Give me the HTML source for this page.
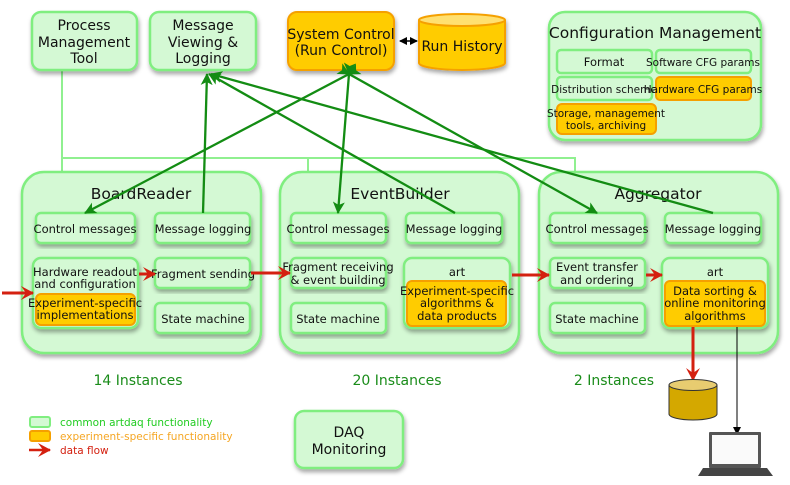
<!DOCTYPE html>
<html><head><meta charset="utf-8"><style>
body{margin:0;background:#fff}
svg{display:block}
text{font-family:"DejaVu Sans","Liberation Sans",sans-serif;fill:#111;text-anchor:middle}
.g{fill:#d4f9d4;stroke:#80ee80;stroke-width:2.5}
.o{fill:#ffcc00;stroke:#f5a000;stroke-width:2}
.s{filter:url(#sh)}
.t11{font-size:11.5px}
.t13{font-size:14px}
.t14{font-size:15.5px}
.sm{font-size:10.5px}
.gl{stroke:#138c13;stroke-width:2.3;fill:none}
</style></head><body>
<svg width="790" height="485" viewBox="0 0 790 485" xmlns="http://www.w3.org/2000/svg">
<defs>
<filter id="sh" x="-10%" y="-10%" width="125%" height="130%"><feDropShadow dx="1" dy="3" stdDeviation="2" flood-color="#000" flood-opacity="0.35"/></filter>
<marker id="ga" markerWidth="12" markerHeight="12" refX="11" refY="6" orient="auto" markerUnits="userSpaceOnUse"><path d="M0,0 L12,6 L0,12 L3,6z" fill="#138c13"/></marker>
<marker id="ka" markerWidth="8" markerHeight="8" refX="7" refY="4" orient="auto" markerUnits="userSpaceOnUse"><path d="M0,0 L8,4 L0,8z" fill="#000"/></marker>
<marker id="ks" markerWidth="8" markerHeight="8" refX="1" refY="4" orient="auto" markerUnits="userSpaceOnUse"><path d="M8,0 L0,4 L8,8z" fill="#000"/></marker>
<marker id="ra" markerWidth="14" markerHeight="14" refX="12" refY="7" orient="auto" markerUnits="userSpaceOnUse"><path d="M0,0 L13,7 L0,14 L5,7z" fill="#d42010"/></marker>
</defs>

<path d="M62,70 V172 M62,158 H575 V172 M308,158 V172" stroke="#90f090" stroke-width="2" fill="none"/>

<rect class="g s" x="32" y="12" width="105" height="58" rx="9"/>
<text class="t13" x="84" y="30">Process</text><text class="t13" x="84" y="47">Management</text><text class="t13" x="84" y="63">Tool</text>
<rect class="g s" x="150" y="12" width="106" height="58" rx="9"/>
<text class="t13" x="203" y="30">Message</text><text class="t13" x="203" y="47">Viewing &amp;</text><text class="t13" x="203" y="63">Logging</text>
<rect class="o s" x="288" y="12" width="106" height="58" rx="9"/>
<text class="t13" x="341" y="39">System Control</text><text class="t13" x="341" y="55">(Run Control)</text>
<g class="s"><path d="M419,20 V63 A43,7 0 0 0 505,63 V20" class="o"/><ellipse cx="462" cy="20" rx="43" ry="6" fill="#ffe070" stroke="#f5a000" stroke-width="2"/></g>
<text class="t13" x="462" y="51">Run History</text>
<line x1="400" y1="41" x2="417" y2="41" stroke="#000" stroke-width="1.5" marker-end="url(#ka)" marker-start="url(#ks)"/>

<rect class="g s" x="549" y="12" width="212" height="128" rx="16"/>
<text class="t14" x="655" y="38">Configuration Management</text>
<rect class="g" x="557" y="50" width="95" height="23" rx="4"/><text class="t11" x="604" y="66">Format</text>
<rect class="g" x="656" y="50" width="95" height="23" rx="4"/><text class="sm" x="703" y="66">Software CFG params</text>
<rect class="g" x="557" y="77" width="95" height="23" rx="4"/><text class="sm" x="604" y="93">Distribution scheme</text>
<rect class="o" x="656" y="77" width="95" height="23" rx="4"/><text class="sm" x="703" y="93">Hardware CFG params</text>
<rect class="o" x="557" y="104" width="99" height="30" rx="5"/><text class="sm" x="606" y="117">Storage, management</text><text class="sm" x="606" y="129">tools, archiving</text>

<rect class="g s" x="22" y="172" width="239" height="181" rx="22"/>
<rect class="g s" x="280" y="172" width="239" height="181" rx="22"/>
<rect class="g s" x="539" y="172" width="239" height="181" rx="22"/>
<text class="t14" x="141" y="199">BoardReader</text>
<text class="t14" x="400" y="199">EventBuilder</text>
<text class="t14" x="658" y="199">Aggregator</text>

<rect class="g s" x="36" y="213" width="99" height="30" rx="5"/><text class="t11" x="85" y="233">Control messages</text>
<rect class="g s" x="155" y="213" width="95" height="30" rx="5"/><text class="t11" x="203" y="233">Message logging</text>
<rect class="g s" x="33" y="258" width="105" height="70" rx="8"/><text class="t11" x="85" y="276">Hardware readout</text><text class="t11" x="85" y="288">and configuration</text>
<rect class="o" x="36" y="294" width="99" height="31" rx="5"/><text class="t11" x="85" y="307">Experiment-specific</text><text class="t11" x="85" y="319">implementations</text>
<rect class="g s" x="155" y="258" width="95" height="30" rx="5"/><text class="t11" x="203" y="278">Fragment sending</text>
<rect class="g s" x="155" y="303" width="95" height="30" rx="5"/><text class="t11" x="203" y="323">State machine</text>

<rect class="g s" x="291" y="213" width="95" height="30" rx="5"/><text class="t11" x="338" y="233">Control messages</text>
<rect class="g s" x="406" y="213" width="96" height="30" rx="5"/><text class="t11" x="454" y="233">Message logging</text>
<rect class="g s" x="291" y="258" width="95" height="30" rx="5"/><text class="t11" x="338" y="271">Fragment receiving</text><text class="t11" x="338" y="284">&amp; event building</text>
<rect class="g s" x="291" y="303" width="95" height="30" rx="5"/><text class="t11" x="338" y="323">State machine</text>
<rect class="g s" x="404" y="258" width="106" height="70" rx="8"/><text class="t11" x="457" y="276">art</text>
<rect class="o" x="407" y="281" width="99" height="45" rx="5"/><text class="t11" x="457" y="295">Experiment-specific</text><text class="t11" x="457" y="307">algorithms &amp;</text><text class="t11" x="457" y="320">data products</text>

<rect class="g s" x="550" y="213" width="95" height="30" rx="5"/><text class="t11" x="597" y="233">Control messages</text>
<rect class="g s" x="665" y="213" width="96" height="30" rx="5"/><text class="t11" x="713" y="233">Message logging</text>
<rect class="g s" x="550" y="258" width="95" height="30" rx="5"/><text class="t11" x="597" y="271">Event transfer</text><text class="t11" x="597" y="284">and ordering</text>
<rect class="g s" x="550" y="303" width="95" height="30" rx="5"/><text class="t11" x="597" y="323">State machine</text>
<rect class="g s" x="662" y="258" width="106" height="70" rx="8"/><text class="t11" x="715" y="276">art</text>
<rect class="o" x="665" y="281" width="100" height="45" rx="5"/><text class="t11" x="715" y="295">Data sorting &amp;</text><text class="t11" x="715" y="307">online monitoring</text><text class="t11" x="715" y="320">algorithms</text>

<line class="gl" x1="203" y1="213" x2="207" y2="74" marker-end="url(#ga)"/>
<line class="gl" x1="455" y1="213" x2="209" y2="74" marker-end="url(#ga)"/>
<line class="gl" x1="713" y1="213" x2="211" y2="74" marker-end="url(#ga)"/>
<line class="gl" x1="349" y1="74" x2="85" y2="213" marker-end="url(#ga)" marker-start="url(#ga)"/>
<line class="gl" x1="349" y1="74" x2="338" y2="213" marker-end="url(#ga)" marker-start="url(#ga)"/>
<line class="gl" x1="349" y1="74" x2="597" y2="213" marker-end="url(#ga)" marker-start="url(#ga)"/>

<g stroke="#d42010" stroke-width="3" fill="none">
<line x1="2" y1="293" x2="33" y2="293" marker-end="url(#ra)"/>
<line x1="139" y1="274" x2="155" y2="274" marker-end="url(#ra)"/>
<line x1="251" y1="273" x2="290" y2="273" marker-end="url(#ra)"/>
<line x1="512" y1="275" x2="549" y2="275" marker-end="url(#ra)"/>
<line x1="646" y1="275" x2="662" y2="275" marker-end="url(#ra)"/>
<line x1="693" y1="327" x2="693" y2="380" marker-end="url(#ra)"/>
</g>
<line x1="737" y1="327" x2="737" y2="434" stroke="#000" stroke-width="1" marker-end="url(#ka)"/>

<path d="M669,385 V414 A24,6 0 0 0 717,414 V385" fill="#d4a800" stroke="#333" stroke-width="1"/>
<ellipse cx="693" cy="385" rx="24" ry="5.5" fill="#e8cc70" stroke="#333" stroke-width="1"/>
<rect x="709" y="432" width="52" height="36" fill="#555" rx="1"/>
<rect x="712" y="435" width="46" height="29" fill="#fafafa"/>
<path d="M703,468 H767 L773,476 H698z" fill="#444"/>

<text x="138" y="385" style="fill:#1a8c1a;font-size:14px">14 Instances</text>
<text x="397" y="385" style="fill:#1a8c1a;font-size:14px">20 Instances</text>
<text x="614" y="385" style="fill:#1a8c1a;font-size:14px">2 Instances</text>

<rect class="g s" x="295" y="411" width="108" height="57" rx="9"/>
<text class="t13" x="349" y="437">DAQ</text><text class="t13" x="349" y="454">Monitoring</text>

<rect x="30" y="417" width="20" height="10" rx="2" fill="#d4f9d4" stroke="#80ee80" stroke-width="2"/>
<rect x="30" y="431" width="20" height="10" rx="2" fill="#ffcc00" stroke="#f5a000" stroke-width="2"/>
<line x1="29" y1="450" x2="50" y2="450" stroke="#d42010" stroke-width="2.5" marker-end="url(#ra)"/>
<text x="60" y="426" style="text-anchor:start;font-size:10.5px;fill:#22cc22">common artdaq functionality</text>
<text x="60" y="440" style="text-anchor:start;font-size:10.5px;fill:#f5a623">experiment-specific functionality</text>
<text x="60" y="454" style="text-anchor:start;font-size:10.5px;fill:#d42010">data flow</text>
</svg>
</body></html>
